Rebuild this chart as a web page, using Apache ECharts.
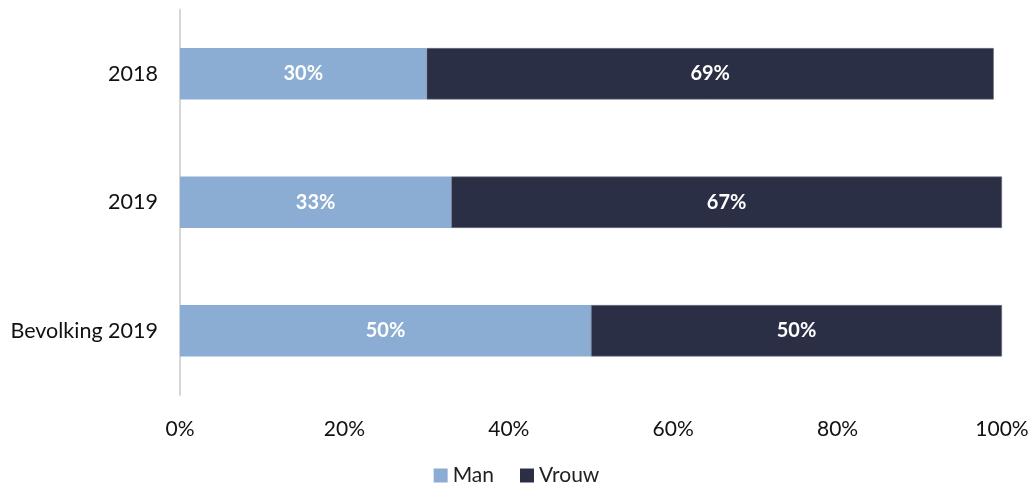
<!DOCTYPE html>
<html><head><meta charset="utf-8">
<script src="https://cdn.jsdelivr.net/npm/echarts@6/dist/echarts.min.js"></script>
<style>html,body{margin:0;padding:0;background:#fff}#c{width:1033px;height:491px}</style>
</head><body><div id="c"></div>
<script>
const categories = ['Bevolking 2019', '2019', '2018'];
const man = [50, 33, 30];
const vrouw = [50, 67, 69];
const seriesNames = ['Man', 'Vrouw'];
const FONT = 'Lato';
const chart = echarts.init(document.getElementById('c'));
const lbl = {show: true, position: 'inside', color: '#fff', fontWeight: 'bold', fontSize: 20, fontFamily: FONT, formatter: p => p.value + '%'};
chart.setOption({
  animation: false,
  grid: {left: 180, right: 31, top: 9.5, bottom: 96, containLabel: false},
  legend: {bottom: 0, left: 'center', itemWidth: 14, itemHeight: 14, itemGap: 26,
    itemStyle: {borderWidth: 0},
    textStyle: {fontFamily: FONT, fontSize: 21, color: '#222'}, data: seriesNames, icon: 'rect'},
  xAxis: {type: 'value', min: 0, max: 100, interval: 20,
    axisLabel: {formatter: '{value}%', fontFamily: FONT, fontSize: 21, color: '#111', margin: 24},
    splitLine: {show: false}, axisLine: {show: false}, axisTick: {show: false}},
  yAxis: {type: 'category', data: categories,
    axisLine: {show: true, lineStyle: {color: '#d6d6d6', width: 2}},
    axisTick: {show: false},
    axisLabel: {fontFamily: FONT, fontSize: 21.5, color: '#111', margin: 22}},
  series: [
    {name: seriesNames[0], type: 'bar', stack: 't', data: man, barWidth: '40%',
      itemStyle: {color: '#8cadd3'}, label: lbl},
    {name: seriesNames[1], type: 'bar', stack: 't', data: vrouw, barWidth: '40%',
      itemStyle: {color: '#2b2f45', borderColor: '#6a6e80', borderWidth: 0.6}, label: lbl}
  ]
});
</script></body></html>
